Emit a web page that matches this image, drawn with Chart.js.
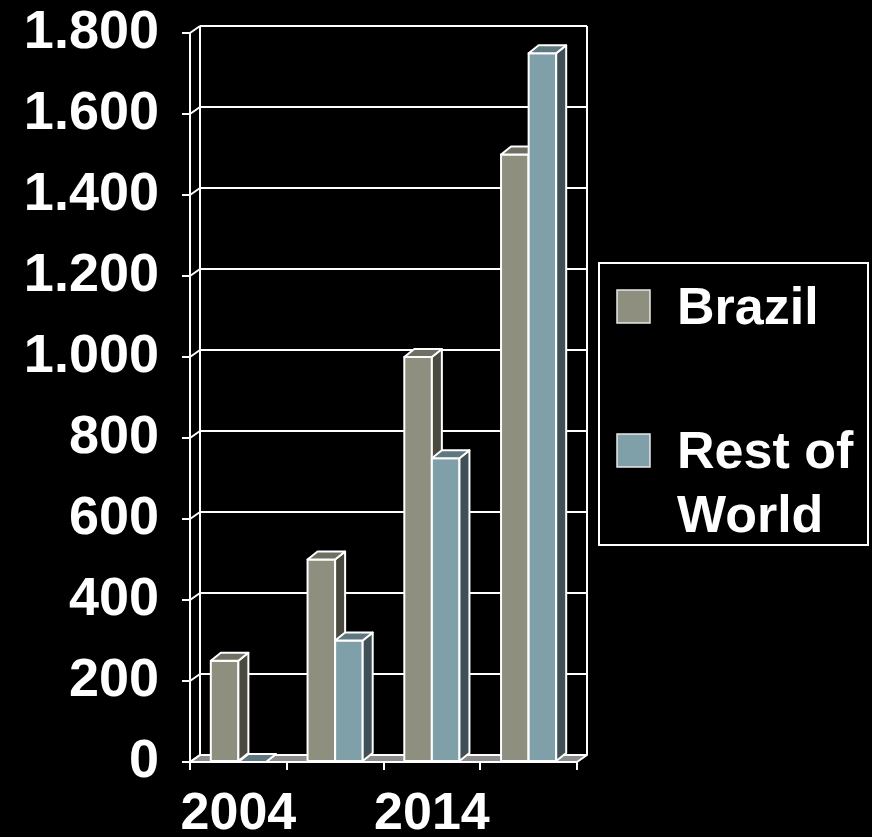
<!DOCTYPE html>
<html>
<head>
<meta charset="utf-8">
<script src="https://cdn.jsdelivr.net/npm/chart.js@4/dist/chart.umd.min.js"></script>
<style>
  html, body { margin: 0; padding: 0; background: #000; }
  #wrap { width: 872px; height: 837px; }
</style>
</head>
<body>
<div id="wrap"><canvas id="c" width="872" height="837"></canvas></div>
<script>
// ---- data ----
const categories = ['2004', '2009', '2014', '2019'];
const brazil = [250, 500, 1000, 1500];
const restOfWorld = [0, 300, 750, 1750];
const seriesNames = ['Brazil', 'Rest of World'];
const yMin = 0, yMax = 1800, yStep = 200;

// ---- styles ----
const FONT = '"Liberation Sans", Arial, Helvetica, sans-serif';
const faceColors = [
  { front: '#8f8f80', side: '#4a4a41', top: '#6f6f64' },
  { front: '#80a0a9', side: '#3f5156', top: '#5f7880' }
];
const barDepth = { dx: 10, dy: -8 };
const wallDepth = { dx: 10, dy: -7 };

function fmt(v) {
  return String(v).replace(/\B(?=(\d{3})+(?!\d))/g, '.');
}

function poly(ctx, pts, fill) {
  ctx.beginPath();
  ctx.moveTo(pts[0][0], pts[0][1]);
  for (let k = 1; k < pts.length; k++) ctx.lineTo(pts[k][0], pts[k][1]);
  ctx.closePath();
  if (fill) { ctx.fillStyle = fill; ctx.fill(); }
  ctx.stroke();
}
function line(ctx, x1, y1, x2, y2) {
  ctx.beginPath(); ctx.moveTo(x1, y1); ctx.lineTo(x2, y2); ctx.stroke();
}

const box3d = {
  id: 'box3d',
  beforeDatasetsDraw(chart) {
    const { ctx, chartArea: { left, right, top, bottom }, scales: { y } } = chart;
    const wd = wallDepth, bd = barDepth;
    ctx.save();
    ctx.strokeStyle = '#ffffff';
    ctx.lineWidth = 2;
    ctx.lineJoin = 'round';
    // floor
    poly(ctx, [[left, bottom], [right, bottom], [right + wd.dx, bottom + wd.dy], [left + wd.dx, bottom + wd.dy]], '#8c8c8c');
    // back wall gridlines + left wall diagonals
    y.ticks.forEach(t => {
      const py = y.getPixelForValue(t.value);
      line(ctx, left + wd.dx, py + wd.dy, right + wd.dx, py + wd.dy);
      line(ctx, left, py, left + wd.dx, py + wd.dy);
    });
    line(ctx, left + wd.dx, top + wd.dy, left + wd.dx, bottom + wd.dy);
    line(ctx, right + wd.dx, top + wd.dy, right + wd.dx, bottom + wd.dy);
    // bars
    const metas = chart.data.datasets.map((d, i) => chart.getDatasetMeta(i));
    for (let i = 0; i < chart.data.labels.length; i++) {
      metas.forEach((meta, di) => {
        const el = meta.data[i];
        if (!el) return;
        const c = faceColors[di];
        const w = el.width;
        const l = el.x - w / 2, r = el.x + w / 2;
        const t = Math.min(el.y, el.base), b = Math.max(el.y, el.base);
        poly(ctx, [[l, t], [r, t], [r, b], [l, b]], c.front);
        poly(ctx, [[r, t], [r + bd.dx, t + bd.dy], [r + bd.dx, b + bd.dy], [r, b]], c.side);
        poly(ctx, [[l, t], [l + bd.dx, t + bd.dy], [r + bd.dx, t + bd.dy], [r, t]], c.top);
      });
    }
    ctx.restore();
    return false;
  }
};

const legendBox = {
  id: 'legendBox',
  afterDraw(chart) {
    const ctx = chart.ctx;
    const bx = 599, by = 263, bw = 269, bh = 282;
    ctx.save();
    ctx.strokeStyle = '#ffffff';
    ctx.lineWidth = 2;
    ctx.strokeRect(bx, by, bw, bh);
    ctx.font = 'bold 52px ' + FONT;
    ctx.textBaseline = 'alphabetic';
    ctx.textAlign = 'left';
    const rows = [324, 468];
    chart.data.datasets.forEach((ds, i) => {
      const base = rows[i];
      ctx.fillStyle = ds.backgroundColor;
      ctx.fillRect(617, base - 34, 33, 33);
      ctx.lineWidth = 1.5;
      ctx.strokeStyle = '#e8e8e8';
      ctx.strokeRect(617, base - 34, 33, 33);
      ctx.fillStyle = '#ffffff';
      const words = ds.label.split(' ');
      const lines = [];
      let cur = '';
      words.forEach(wd => {
        const test = cur ? cur + ' ' + wd : wd;
        if (ctx.measureText(test).width > 185 && cur) { lines.push(cur); cur = wd; }
        else cur = test;
      });
      lines.push(cur);
      lines.forEach((ln, k) => ctx.fillText(ln, 677, base + k * 64));
    });
    ctx.restore();
  }
};

new Chart(document.getElementById('c'), {
  type: 'bar',
  data: {
    labels: categories,
    datasets: [
      { label: seriesNames[0], data: brazil, backgroundColor: faceColors[0].front, borderWidth: 0 },
      { label: seriesNames[1], data: restOfWorld, backgroundColor: faceColors[1].front, borderWidth: 0 }
    ]
  },
  options: {
    responsive: false,
    animation: false,
    devicePixelRatio: 1,
    layout: { padding: { top: 33, right: 295, bottom: 0, left: 0 } },
    datasets: { bar: { categoryPercentage: 0.57, barPercentage: 1.0 } },
    plugins: { legend: { display: false }, tooltip: { enabled: false } },
    scales: {
      x: {
        offset: true,
        afterFit(s) { s.height = 75; },
        grid: { display: true, offset: true, drawOnChartArea: false, drawTicks: true, tickLength: 8, color: '#ffffff', lineWidth: 2 },
        border: { display: true, color: '#ffffff', width: 2 },
        ticks: {
          autoSkip: false, maxRotation: 0, minRotation: 0, padding: 13,
          color: '#ffffff', font: { family: FONT, size: 52, weight: 'bold' },
          callback(v, i) { return i % 2 === 0 ? this.getLabelForValue(v) : ''; }
        }
      },
      y: {
        min: yMin, max: yMax,
        afterFit(s) { s.width = 190; },
        grid: { display: true, drawOnChartArea: false, drawTicks: true, tickLength: 8, color: '#ffffff', lineWidth: 2 },
        border: { display: true, color: '#ffffff', width: 2 },
        ticks: {
          stepSize: yStep, padding: 23,
          color: '#ffffff', font: { family: FONT, size: 54, weight: 'bold', lineHeight: 0.3 },
          callback(v) { return fmt(v); }
        }
      }
    }
  },
  plugins: [box3d, legendBox]
});
</script>
</body>
</html>
